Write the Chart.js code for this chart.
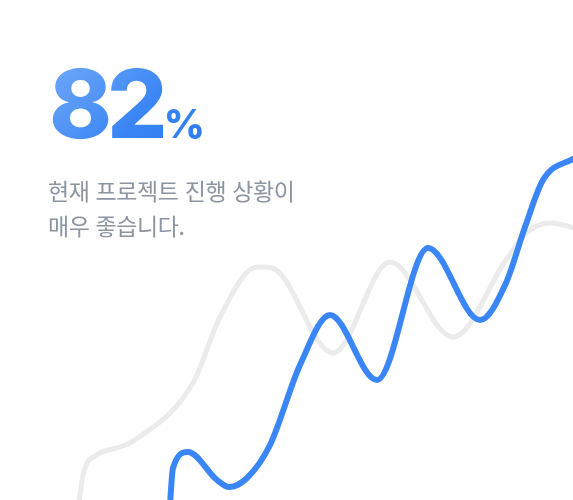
<!DOCTYPE html>
<html lang="ko">
<head>
<meta charset="utf-8">
<script src="https://cdn.jsdelivr.net/npm/chart.js@4"></script>
<style>
  html, body { margin: 0; padding: 0; background: #fff; }
  #wrap { position: relative; width: 573px; height: 500px; overflow: hidden; }
  #myChart { position: absolute; left: 0; top: 0; }
  #big {
    position: absolute; left: 49px; top: 56px;
    font-family: Inter, sans-serif; font-weight: 800;
    font-size: 95px; line-height: 95px; letter-spacing: -5px;
    background: linear-gradient(135deg, #73abf7 0%, #3b86f5 55%, #2a78ee 100%);
    -webkit-background-clip: text; background-clip: text;
    color: transparent; white-space: nowrap;
  }
  #big .pct { font-size: 40px; letter-spacing: 0; margin-left: 1px; }
  #desc {
    position: absolute; left: 48px; top: 173px;
    font-family: "Noto Sans CJK KR", sans-serif; font-size: 23px;
    line-height: 35px; color: #8b95a1; letter-spacing: -0.4px;
  }
</style>
</head>
<body>
<div id="wrap">
  <canvas id="myChart" width="573" height="500"></canvas>
  <div id="big">82<span class="pct">%</span></div>
  <div id="desc">현재 프로젝트 진행 상황이<br>매우 좋습니다.</div>
</div>
<script>
// 진행 추이 (파란선)
const progressX = [168, 173, 188, 217, 229, 247, 270, 300, 330, 377, 428, 480, 506, 525, 543, 571, 600];
const progressY = [-40, 32, 48, 20, 13, 22, 55, 135, 185, 120, 252, 180, 217, 273, 320, 340, 348];

// 이전 추이 (회색선)
const previousX = [76, 83, 97, 120, 135, 193, 220, 257, 272, 333, 390, 453, 506, 526, 550, 571, 600];
const previousY = [-30, 25, 45, 53, 60, 117, 183, 233, 232, 147, 238, 163, 240, 267, 277, 273, 262];

function toPoints(xs, ys) {
    return xs.map((x, i) => ({ x: x, y: ys[i] }));
}

let ctx = document.getElementById('myChart');

let myChart = new Chart(ctx, {
    type: 'line',
    data: {
        datasets: [{
            label: '진행',
            data: toPoints(progressX, progressY),
            borderColor: '#3b86f7',
            borderWidth: 6,
            pointRadius: 0,
            cubicInterpolationMode: 'monotone',
            borderCapStyle: 'round'
        },{
            label: '이전',
            data: toPoints(previousX, previousY),
            borderColor: '#ebebeb',
            borderWidth: 5,
            pointRadius: 0,
            cubicInterpolationMode: 'monotone',
            borderCapStyle: 'round'
        }]
    },
    options: {
        responsive: false,
        animation: false,
        layout: { padding: 0 },
        plugins: {
            legend: { display: false },
            tooltip: { enabled: false }
        },
        scales: {
            x: { type: 'linear', min: 0, max: 573, display: false },
            y: { min: 0, max: 500, display: false }
        }
    }
});
</script>
</body>
</html>
